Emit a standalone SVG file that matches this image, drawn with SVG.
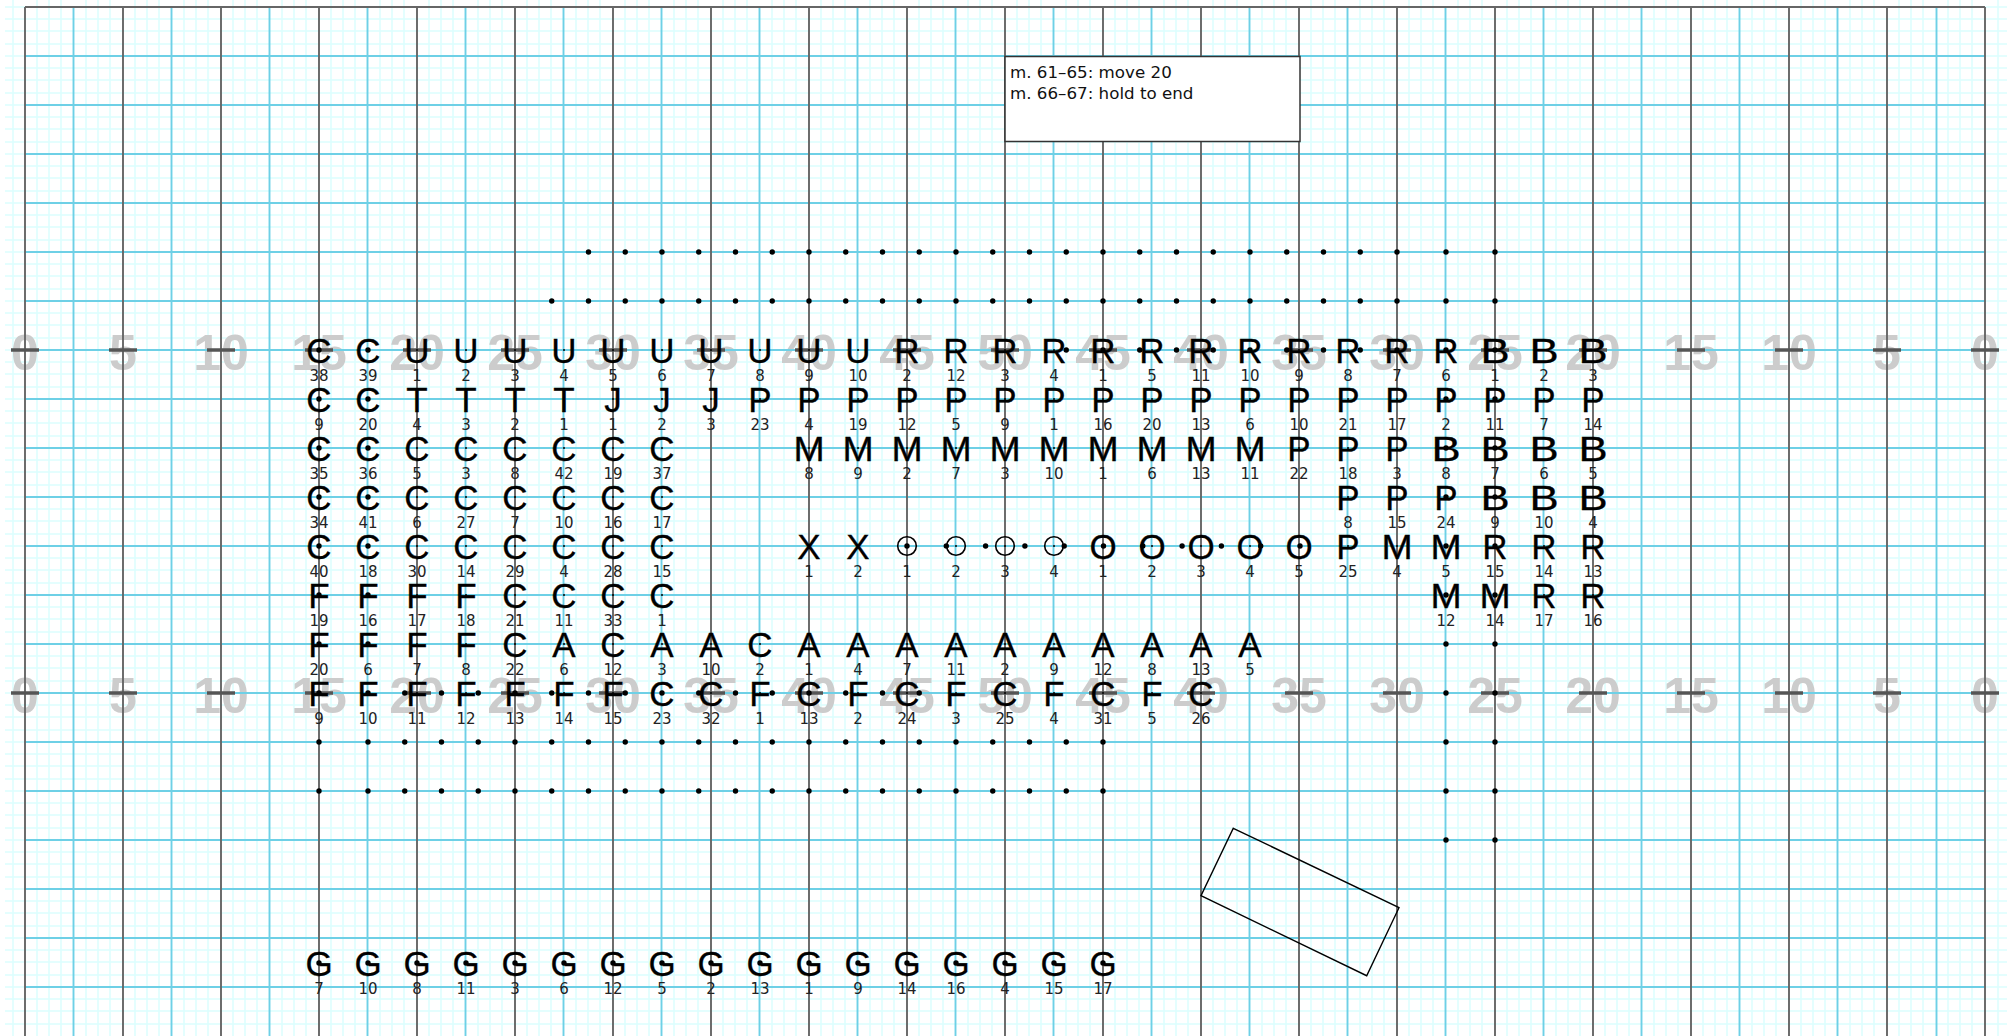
<svg xmlns="http://www.w3.org/2000/svg" width="2007" height="1036" viewBox="0 0 2007 1036">
<style>
text{text-anchor:middle}
.g{font:35px "Liberation Sans",Arial,sans-serif;fill:#000;stroke:#000;stroke-width:.3}
g[id^="B"] .g{transform:scaleX(1.25)}
g[id^="M"] .g{transform:scaleX(1.07)}
.n{font:15px "DejaVu Sans",sans-serif;fill:#222}
.t{font:bold 50px "Liberation Sans",Arial,sans-serif;fill:#ccc}
.d{fill:#000}
.ring{fill:none;stroke:#000;stroke-width:1.6}
.note{font:16.7px "DejaVu Sans",sans-serif;fill:#111;text-anchor:start}
.minor{fill:none;stroke:#dcfefe;stroke-width:1.5}
.blue{fill:none;stroke:#6ed0e6;stroke-width:1.9}
.gray{fill:none;stroke:#666;stroke-width:1.9}
.tick{fill:none;stroke:#555;stroke-width:3.5}
.bigdots{fill:none;stroke:#000;stroke-width:5.4;stroke-linecap:round}
</style>
<rect width="2007" height="1036" fill="#fff"/>
<g id="grid-minor">
<path class="minor" d="M13 0V1036M37 0V1036M49 0V1036M61 0V1036M86 0V1036M98 0V1036M110 0V1036M135 0V1036M147 0V1036M159 0V1036M184 0V1036M196 0V1036M208 0V1036M233 0V1036M245 0V1036M257 0V1036M282 0V1036M294 0V1036M306 0V1036M331 0V1036M343 0V1036M355 0V1036M380 0V1036M392 0V1036M404 0V1036M429 0V1036M441 0V1036M453 0V1036M478 0V1036M490 0V1036M502 0V1036M527 0V1036M539 0V1036M551 0V1036M576 0V1036M588 0V1036M600 0V1036M625 0V1036M637 0V1036M649 0V1036M674 0V1036M686 0V1036M698 0V1036M723 0V1036M735 0V1036M747 0V1036M772 0V1036M784 0V1036M796 0V1036M821 0V1036M833 0V1036M845 0V1036M870 0V1036M882 0V1036M894 0V1036M919 0V1036M931 0V1036M943 0V1036M968 0V1036M980 0V1036M992 0V1036M1017 0V1036M1029 0V1036M1041 0V1036M1066 0V1036M1078 0V1036M1090 0V1036M1115 0V1036M1127 0V1036M1139 0V1036M1164 0V1036M1176 0V1036M1188 0V1036M1213 0V1036M1225 0V1036M1237 0V1036M1262 0V1036M1274 0V1036M1286 0V1036M1311 0V1036M1323 0V1036M1335 0V1036M1360 0V1036M1372 0V1036M1384 0V1036M1409 0V1036M1421 0V1036M1433 0V1036M1458 0V1036M1470 0V1036M1482 0V1036M1507 0V1036M1519 0V1036M1531 0V1036M1556 0V1036M1568 0V1036M1580 0V1036M1605 0V1036M1617 0V1036M1629 0V1036M1654 0V1036M1666 0V1036M1678 0V1036M1703 0V1036M1715 0V1036M1727 0V1036M1752 0V1036M1764 0V1036M1776 0V1036M1801 0V1036M1813 0V1036M1825 0V1036M1850 0V1036M1862 0V1036M1874 0V1036M1899 0V1036M1911 0V1036M1923 0V1036M1948 0V1036M1960 0V1036M1972 0V1036M1998 0V1036"/>
<path class="minor" d="M5 7H2007M5 19H2007M5 31H2007M5 44H2007M5 56H2007M5 68H2007M5 80H2007M5 93H2007M5 105H2007M5 117H2007M5 129H2007M5 142H2007M5 154H2007M5 166H2007M5 178H2007M5 191H2007M5 203H2007M5 215H2007M5 227H2007M5 240H2007M5 252H2007M5 264H2007M5 276H2007M5 289H2007M5 301H2007M5 313H2007M5 325H2007M5 338H2007M5 350H2007M5 362H2007M5 374H2007M5 387H2007M5 399H2007M5 411H2007M5 423H2007M5 436H2007M5 448H2007M5 460H2007M5 472H2007M5 485H2007M5 497H2007M5 509H2007M5 521H2007M5 534H2007M5 546H2007M5 558H2007M5 570H2007M5 583H2007M5 595H2007M5 607H2007M5 619H2007M5 632H2007M5 644H2007M5 656H2007M5 668H2007M5 681H2007M5 693H2007M5 705H2007M5 717H2007M5 730H2007M5 742H2007M5 754H2007M5 766H2007M5 779H2007M5 791H2007M5 803H2007M5 815H2007M5 828H2007M5 840H2007M5 852H2007M5 864H2007M5 877H2007M5 889H2007M5 901H2007M5 913H2007M5 926H2007M5 938H2007M5 950H2007M5 962H2007M5 975H2007M5 987H2007M5 999H2007M5 1011H2007M5 1024H2007"/>
</g>
<g id="yard-labels">
<text class="t" x="25" y="370">0</text><text class="t" x="123" y="370">5</text><text class="t" x="221" y="370">10</text><text class="t" x="319" y="370">15</text><text class="t" x="417" y="370">20</text><text class="t" x="515" y="370">25</text><text class="t" x="613" y="370">30</text><text class="t" x="711" y="370">35</text><text class="t" x="809" y="370">40</text><text class="t" x="907" y="370">45</text><text class="t" x="1005" y="370">50</text><text class="t" x="1103" y="370">45</text><text class="t" x="1201" y="370">40</text><text class="t" x="1299" y="370">35</text><text class="t" x="1397" y="370">30</text><text class="t" x="1495" y="370">25</text><text class="t" x="1593" y="370">20</text><text class="t" x="1691" y="370">15</text><text class="t" x="1789" y="370">10</text><text class="t" x="1887" y="370">5</text><text class="t" x="1985" y="370">0</text>
<text class="t" x="25" y="713">0</text><text class="t" x="123" y="713">5</text><text class="t" x="221" y="713">10</text><text class="t" x="319" y="713">15</text><text class="t" x="417" y="713">20</text><text class="t" x="515" y="713">25</text><text class="t" x="613" y="713">30</text><text class="t" x="711" y="713">35</text><text class="t" x="809" y="713">40</text><text class="t" x="907" y="713">45</text><text class="t" x="1005" y="713">50</text><text class="t" x="1103" y="713">45</text><text class="t" x="1201" y="713">40</text><text class="t" x="1299" y="713">35</text><text class="t" x="1397" y="713">30</text><text class="t" x="1495" y="713">25</text><text class="t" x="1593" y="713">20</text><text class="t" x="1691" y="713">15</text><text class="t" x="1789" y="713">10</text><text class="t" x="1887" y="713">5</text><text class="t" x="1985" y="713">0</text>
</g>
<g id="grid-major">
<path class="blue" d="M73.5 7V1036M171.5 7V1036M269.5 7V1036M367.5 7V1036M465.5 7V1036M563.5 7V1036M661.5 7V1036M759.5 7V1036M857.5 7V1036M955.5 7V1036M1053.5 7V1036M1151.5 7V1036M1249.5 7V1036M1347.5 7V1036M1445.5 7V1036M1543.5 7V1036M1641.5 7V1036M1739.5 7V1036M1837.5 7V1036M1936.5 7V1036"/>
<path class="blue" d="M25 56H1985M25 105H1985M25 154H1985M25 203H1985M25 252H1985M25 301H1985M25 350H1985M25 399H1985M25 448H1985M25 497H1985M25 546H1985M25 595H1985M25 644H1985M25 693H1985M25 742H1985M25 791H1985M25 840H1985M25 889H1985M25 938H1985M25 987H1985"/>
<path class="gray" d="M25 7V1036M123 7V1036M221 7V1036M319 7V1036M417 7V1036M515 7V1036M613 7V1036M711 7V1036M809 7V1036M907 7V1036M1005 7V1036M1103 7V1036M1201 7V1036M1299 7V1036M1397 7V1036M1495 7V1036M1593 7V1036M1691 7V1036M1789 7V1036M1887 7V1036M1985 7V1036M25 7H1985"/>
<path class="tick" d="M11 350h28M109 350h28M207 350h28M305 350h28M403 350h28M501 350h28M599 350h28M697 350h28M795 350h28M893 350h28M991 350h28M1089 350h28M1187 350h28M1285 350h28M1383 350h28M1481 350h28M1579 350h28M1677 350h28M1775 350h28M1873 350h28M1971 350h28M11 693h28M109 693h28M207 693h28M305 693h28M403 693h28M501 693h28M599 693h28M697 693h28M795 693h28M893 693h28M991 693h28M1089 693h28M1187 693h28M1285 693h28M1383 693h28M1481 693h28M1579 693h28M1677 693h28M1775 693h28M1873 693h28M1971 693h28"/>
</g>
<g id="connectors">
<path class="bigdots" d="M588.5 252h0M625.25 252h0M662 252h0M698.75 252h0M735.5 252h0M772.25 252h0M809 252h0M845.75 252h0M882.5 252h0M919.25 252h0M956 252h0M992.75 252h0M1029.5 252h0M1066.25 252h0M1103 252h0M1139.75 252h0M1176.5 252h0M1213.25 252h0M1250 252h0M1286.75 252h0M1323.5 252h0M1360.25 252h0M1397 252h0
M551.75 301h0M588.5 301h0M625.25 301h0M662 301h0M698.75 301h0M735.5 301h0M772.25 301h0M809 301h0M845.75 301h0M882.5 301h0M919.25 301h0M956 301h0M992.75 301h0M1029.5 301h0M1066.25 301h0M1103 301h0M1139.75 301h0M1176.5 301h0M1213.25 301h0M1250 301h0M1286.75 301h0M1323.5 301h0M1360.25 301h0M1397 301h0
M1066.25 350h0M1103 350h0M1139.75 350h0M1176.5 350h0M1213.25 350h0M1250 350h0M1286.75 350h0M1323.5 350h0M1360.25 350h0M1397 350h0
M907 546h0M946.3 546h0M985.6 546h0M1024.9 546h0M1064.2 546h0M1103.5 546h0M1142.8 546h0M1182.1 546h0M1221.4 546h0M1260.7 546h0M1300 546h0
M319 350h0M368 350h0M319 399h0M368 399h0M319 448h0M368 448h0M319 497h0M368 497h0M319 546h0M368 546h0M319 595h0M368 595h0M319 644h0M368 644h0
M319 693h0M368 693h0M404.75 693h0M441.5 693h0M478.25 693h0M515 693h0M551.75 693h0M588.5 693h0M625.25 693h0M662 693h0M698.75 693h0M735.5 693h0M772.25 693h0M809 693h0M845.75 693h0M882.5 693h0M919.25 693h0
M319 742h0M368 742h0M404.75 742h0M441.5 742h0M478.25 742h0M515 742h0M551.75 742h0M588.5 742h0M625.25 742h0M662 742h0M698.75 742h0M735.5 742h0M772.25 742h0M809 742h0M845.75 742h0M882.5 742h0M919.25 742h0M956 742h0M992.75 742h0M1029.5 742h0M1066.25 742h0M1103 742h0
M319 791h0M368 791h0M404.75 791h0M441.5 791h0M478.25 791h0M515 791h0M551.75 791h0M588.5 791h0M625.25 791h0M662 791h0M698.75 791h0M735.5 791h0M772.25 791h0M809 791h0M845.75 791h0M882.5 791h0M919.25 791h0M956 791h0M992.75 791h0M1029.5 791h0M1066.25 791h0M1103 791h0
M1446 252h0M1446 301h0M1446 350h0M1446 399h0M1446 448h0M1446 497h0M1446 546h0M1446 595h0M1446 644h0M1446 693h0M1446 742h0M1446 791h0M1446 840h0
M1495 252h0M1495 301h0M1495 350h0M1495 399h0M1495 448h0M1495 497h0M1495 546h0M1495 595h0M1495 644h0M1495 693h0M1495 742h0M1495 791h0M1495 840h0
M319 963h0M368 963h0M417 963h0M466 963h0M515 963h0M564 963h0M613 963h0M662 963h0M711 963h0M760 963h0M809 963h0M858 963h0M907 963h0M956 963h0M1005 963h0M1054 963h0M1103 963h0"/>
</g>
<g id="marks">
<g id="C38" transform="translate(319 350)"><circle class="d" r="1"/><text class="g" y="12.8">C</text><text class="n" y="31">38</text></g>
<g id="C39" transform="translate(368 350)"><circle class="d" r="1"/><text class="g" y="12.8">C</text><text class="n" y="31">39</text></g>
<g id="U1" transform="translate(417 350)"><circle class="d" r="1"/><text class="g" y="12.8">U</text><text class="n" y="31">1</text></g>
<g id="U2" transform="translate(466 350)"><circle class="d" r="1"/><text class="g" y="12.8">U</text><text class="n" y="31">2</text></g>
<g id="U3" transform="translate(515 350)"><circle class="d" r="1"/><text class="g" y="12.8">U</text><text class="n" y="31">3</text></g>
<g id="U4" transform="translate(564 350)"><circle class="d" r="1"/><text class="g" y="12.8">U</text><text class="n" y="31">4</text></g>
<g id="U5" transform="translate(613 350)"><circle class="d" r="1"/><text class="g" y="12.8">U</text><text class="n" y="31">5</text></g>
<g id="U6" transform="translate(662 350)"><circle class="d" r="1"/><text class="g" y="12.8">U</text><text class="n" y="31">6</text></g>
<g id="U7" transform="translate(711 350)"><circle class="d" r="1"/><text class="g" y="12.8">U</text><text class="n" y="31">7</text></g>
<g id="U8" transform="translate(760 350)"><circle class="d" r="1"/><text class="g" y="12.8">U</text><text class="n" y="31">8</text></g>
<g id="U9" transform="translate(809 350)"><circle class="d" r="1"/><text class="g" y="12.8">U</text><text class="n" y="31">9</text></g>
<g id="U10" transform="translate(858 350)"><circle class="d" r="1"/><text class="g" y="12.8">U</text><text class="n" y="31">10</text></g>
<g id="R2" transform="translate(907 350)"><circle class="d" r="1"/><text class="g" y="12.8">R</text><text class="n" y="31">2</text></g>
<g id="R12" transform="translate(956 350)"><circle class="d" r="1"/><text class="g" y="12.8">R</text><text class="n" y="31">12</text></g>
<g id="R3" transform="translate(1005 350)"><circle class="d" r="1"/><text class="g" y="12.8">R</text><text class="n" y="31">3</text></g>
<g id="R4" transform="translate(1054 350)"><circle class="d" r="1"/><text class="g" y="12.8">R</text><text class="n" y="31">4</text></g>
<g id="R1" transform="translate(1103 350)"><circle class="d" r="1"/><text class="g" y="12.8">R</text><text class="n" y="31">1</text></g>
<g id="R5" transform="translate(1152 350)"><circle class="d" r="1"/><text class="g" y="12.8">R</text><text class="n" y="31">5</text></g>
<g id="R11" transform="translate(1201 350)"><circle class="d" r="1"/><text class="g" y="12.8">R</text><text class="n" y="31">11</text></g>
<g id="R10" transform="translate(1250 350)"><circle class="d" r="1"/><text class="g" y="12.8">R</text><text class="n" y="31">10</text></g>
<g id="R9" transform="translate(1299 350)"><circle class="d" r="1"/><text class="g" y="12.8">R</text><text class="n" y="31">9</text></g>
<g id="R8" transform="translate(1348 350)"><circle class="d" r="1"/><text class="g" y="12.8">R</text><text class="n" y="31">8</text></g>
<g id="R7" transform="translate(1397 350)"><circle class="d" r="1"/><text class="g" y="12.8">R</text><text class="n" y="31">7</text></g>
<g id="R6" transform="translate(1446 350)"><circle class="d" r="1"/><text class="g" y="12.8">R</text><text class="n" y="31">6</text></g>
<g id="B1" transform="translate(1495 350)"><circle class="d" r="1"/><text class="g" y="12.8">B</text><text class="n" y="31">1</text></g>
<g id="B2" transform="translate(1544 350)"><circle class="d" r="1"/><text class="g" y="12.8">B</text><text class="n" y="31">2</text></g>
<g id="B3" transform="translate(1593 350)"><circle class="d" r="1"/><text class="g" y="12.8">B</text><text class="n" y="31">3</text></g>
<g id="C9" transform="translate(319 399)"><circle class="d" r="1"/><text class="g" y="12.8">C</text><text class="n" y="31">9</text></g>
<g id="C20" transform="translate(368 399)"><circle class="d" r="1"/><text class="g" y="12.8">C</text><text class="n" y="31">20</text></g>
<g id="T4" transform="translate(417 399)"><circle class="d" r="1"/><text class="g" y="12.8">T</text><text class="n" y="31">4</text></g>
<g id="T3" transform="translate(466 399)"><circle class="d" r="1"/><text class="g" y="12.8">T</text><text class="n" y="31">3</text></g>
<g id="T2" transform="translate(515 399)"><circle class="d" r="1"/><text class="g" y="12.8">T</text><text class="n" y="31">2</text></g>
<g id="T1" transform="translate(564 399)"><circle class="d" r="1"/><text class="g" y="12.8">T</text><text class="n" y="31">1</text></g>
<g id="J1" transform="translate(613 399)"><circle class="d" r="1"/><text class="g" y="12.8">J</text><text class="n" y="31">1</text></g>
<g id="J2" transform="translate(662 399)"><circle class="d" r="1"/><text class="g" y="12.8">J</text><text class="n" y="31">2</text></g>
<g id="J3" transform="translate(711 399)"><circle class="d" r="1"/><text class="g" y="12.8">J</text><text class="n" y="31">3</text></g>
<g id="P23" transform="translate(760 399)"><circle class="d" r="1"/><text class="g" y="12.8">P</text><text class="n" y="31">23</text></g>
<g id="P4" transform="translate(809 399)"><circle class="d" r="1"/><text class="g" y="12.8">P</text><text class="n" y="31">4</text></g>
<g id="P19" transform="translate(858 399)"><circle class="d" r="1"/><text class="g" y="12.8">P</text><text class="n" y="31">19</text></g>
<g id="P12" transform="translate(907 399)"><circle class="d" r="1"/><text class="g" y="12.8">P</text><text class="n" y="31">12</text></g>
<g id="P5" transform="translate(956 399)"><circle class="d" r="1"/><text class="g" y="12.8">P</text><text class="n" y="31">5</text></g>
<g id="P9" transform="translate(1005 399)"><circle class="d" r="1"/><text class="g" y="12.8">P</text><text class="n" y="31">9</text></g>
<g id="P1" transform="translate(1054 399)"><circle class="d" r="1"/><text class="g" y="12.8">P</text><text class="n" y="31">1</text></g>
<g id="P16" transform="translate(1103 399)"><circle class="d" r="1"/><text class="g" y="12.8">P</text><text class="n" y="31">16</text></g>
<g id="P20" transform="translate(1152 399)"><circle class="d" r="1"/><text class="g" y="12.8">P</text><text class="n" y="31">20</text></g>
<g id="P13" transform="translate(1201 399)"><circle class="d" r="1"/><text class="g" y="12.8">P</text><text class="n" y="31">13</text></g>
<g id="P6" transform="translate(1250 399)"><circle class="d" r="1"/><text class="g" y="12.8">P</text><text class="n" y="31">6</text></g>
<g id="P10" transform="translate(1299 399)"><circle class="d" r="1"/><text class="g" y="12.8">P</text><text class="n" y="31">10</text></g>
<g id="P21" transform="translate(1348 399)"><circle class="d" r="1"/><text class="g" y="12.8">P</text><text class="n" y="31">21</text></g>
<g id="P17" transform="translate(1397 399)"><circle class="d" r="1"/><text class="g" y="12.8">P</text><text class="n" y="31">17</text></g>
<g id="P2" transform="translate(1446 399)"><circle class="d" r="1"/><text class="g" y="12.8">P</text><text class="n" y="31">2</text></g>
<g id="P11" transform="translate(1495 399)"><circle class="d" r="1"/><text class="g" y="12.8">P</text><text class="n" y="31">11</text></g>
<g id="P7" transform="translate(1544 399)"><circle class="d" r="1"/><text class="g" y="12.8">P</text><text class="n" y="31">7</text></g>
<g id="P14" transform="translate(1593 399)"><circle class="d" r="1"/><text class="g" y="12.8">P</text><text class="n" y="31">14</text></g>
<g id="C35" transform="translate(319 448)"><circle class="d" r="1"/><text class="g" y="12.8">C</text><text class="n" y="31">35</text></g>
<g id="C36" transform="translate(368 448)"><circle class="d" r="1"/><text class="g" y="12.8">C</text><text class="n" y="31">36</text></g>
<g id="C5" transform="translate(417 448)"><circle class="d" r="1"/><text class="g" y="12.8">C</text><text class="n" y="31">5</text></g>
<g id="C3" transform="translate(466 448)"><circle class="d" r="1"/><text class="g" y="12.8">C</text><text class="n" y="31">3</text></g>
<g id="C8" transform="translate(515 448)"><circle class="d" r="1"/><text class="g" y="12.8">C</text><text class="n" y="31">8</text></g>
<g id="C42" transform="translate(564 448)"><circle class="d" r="1"/><text class="g" y="12.8">C</text><text class="n" y="31">42</text></g>
<g id="C19" transform="translate(613 448)"><circle class="d" r="1"/><text class="g" y="12.8">C</text><text class="n" y="31">19</text></g>
<g id="C37" transform="translate(662 448)"><circle class="d" r="1"/><text class="g" y="12.8">C</text><text class="n" y="31">37</text></g>
<g id="M8" transform="translate(809 448)"><circle class="d" r="1"/><text class="g" y="12.8">M</text><text class="n" y="31">8</text></g>
<g id="M9" transform="translate(858 448)"><circle class="d" r="1"/><text class="g" y="12.8">M</text><text class="n" y="31">9</text></g>
<g id="M2" transform="translate(907 448)"><circle class="d" r="1"/><text class="g" y="12.8">M</text><text class="n" y="31">2</text></g>
<g id="M7" transform="translate(956 448)"><circle class="d" r="1"/><text class="g" y="12.8">M</text><text class="n" y="31">7</text></g>
<g id="M3" transform="translate(1005 448)"><circle class="d" r="1"/><text class="g" y="12.8">M</text><text class="n" y="31">3</text></g>
<g id="M10" transform="translate(1054 448)"><circle class="d" r="1"/><text class="g" y="12.8">M</text><text class="n" y="31">10</text></g>
<g id="M1" transform="translate(1103 448)"><circle class="d" r="1"/><text class="g" y="12.8">M</text><text class="n" y="31">1</text></g>
<g id="M6" transform="translate(1152 448)"><circle class="d" r="1"/><text class="g" y="12.8">M</text><text class="n" y="31">6</text></g>
<g id="M13" transform="translate(1201 448)"><circle class="d" r="1"/><text class="g" y="12.8">M</text><text class="n" y="31">13</text></g>
<g id="M11" transform="translate(1250 448)"><circle class="d" r="1"/><text class="g" y="12.8">M</text><text class="n" y="31">11</text></g>
<g id="P22" transform="translate(1299 448)"><circle class="d" r="1"/><text class="g" y="12.8">P</text><text class="n" y="31">22</text></g>
<g id="P18" transform="translate(1348 448)"><circle class="d" r="1"/><text class="g" y="12.8">P</text><text class="n" y="31">18</text></g>
<g id="P3" transform="translate(1397 448)"><circle class="d" r="1"/><text class="g" y="12.8">P</text><text class="n" y="31">3</text></g>
<g id="B8" transform="translate(1446 448)"><circle class="d" r="1"/><text class="g" y="12.8">B</text><text class="n" y="31">8</text></g>
<g id="B7" transform="translate(1495 448)"><circle class="d" r="1"/><text class="g" y="12.8">B</text><text class="n" y="31">7</text></g>
<g id="B6" transform="translate(1544 448)"><circle class="d" r="1"/><text class="g" y="12.8">B</text><text class="n" y="31">6</text></g>
<g id="B5" transform="translate(1593 448)"><circle class="d" r="1"/><text class="g" y="12.8">B</text><text class="n" y="31">5</text></g>
<g id="C34" transform="translate(319 497)"><circle class="d" r="1"/><text class="g" y="12.8">C</text><text class="n" y="31">34</text></g>
<g id="C41" transform="translate(368 497)"><circle class="d" r="1"/><text class="g" y="12.8">C</text><text class="n" y="31">41</text></g>
<g id="C6" transform="translate(417 497)"><circle class="d" r="1"/><text class="g" y="12.8">C</text><text class="n" y="31">6</text></g>
<g id="C27" transform="translate(466 497)"><circle class="d" r="1"/><text class="g" y="12.8">C</text><text class="n" y="31">27</text></g>
<g id="C7" transform="translate(515 497)"><circle class="d" r="1"/><text class="g" y="12.8">C</text><text class="n" y="31">7</text></g>
<g id="C10" transform="translate(564 497)"><circle class="d" r="1"/><text class="g" y="12.8">C</text><text class="n" y="31">10</text></g>
<g id="C16" transform="translate(613 497)"><circle class="d" r="1"/><text class="g" y="12.8">C</text><text class="n" y="31">16</text></g>
<g id="C17" transform="translate(662 497)"><circle class="d" r="1"/><text class="g" y="12.8">C</text><text class="n" y="31">17</text></g>
<g id="P8" transform="translate(1348 497)"><circle class="d" r="1"/><text class="g" y="12.8">P</text><text class="n" y="31">8</text></g>
<g id="P15" transform="translate(1397 497)"><circle class="d" r="1"/><text class="g" y="12.8">P</text><text class="n" y="31">15</text></g>
<g id="P24" transform="translate(1446 497)"><circle class="d" r="1"/><text class="g" y="12.8">P</text><text class="n" y="31">24</text></g>
<g id="B9" transform="translate(1495 497)"><circle class="d" r="1"/><text class="g" y="12.8">B</text><text class="n" y="31">9</text></g>
<g id="B10" transform="translate(1544 497)"><circle class="d" r="1"/><text class="g" y="12.8">B</text><text class="n" y="31">10</text></g>
<g id="B4" transform="translate(1593 497)"><circle class="d" r="1"/><text class="g" y="12.8">B</text><text class="n" y="31">4</text></g>
<g id="C40" transform="translate(319 546)"><circle class="d" r="1"/><text class="g" y="12.8">C</text><text class="n" y="31">40</text></g>
<g id="C18" transform="translate(368 546)"><circle class="d" r="1"/><text class="g" y="12.8">C</text><text class="n" y="31">18</text></g>
<g id="C30" transform="translate(417 546)"><circle class="d" r="1"/><text class="g" y="12.8">C</text><text class="n" y="31">30</text></g>
<g id="C14" transform="translate(466 546)"><circle class="d" r="1"/><text class="g" y="12.8">C</text><text class="n" y="31">14</text></g>
<g id="C29" transform="translate(515 546)"><circle class="d" r="1"/><text class="g" y="12.8">C</text><text class="n" y="31">29</text></g>
<g id="C4" transform="translate(564 546)"><circle class="d" r="1"/><text class="g" y="12.8">C</text><text class="n" y="31">4</text></g>
<g id="C28" transform="translate(613 546)"><circle class="d" r="1"/><text class="g" y="12.8">C</text><text class="n" y="31">28</text></g>
<g id="C15" transform="translate(662 546)"><circle class="d" r="1"/><text class="g" y="12.8">C</text><text class="n" y="31">15</text></g>
<g id="X1" transform="translate(809 546)"><circle class="d" r="1"/><text class="g" y="12.8">X</text><text class="n" y="31">1</text></g>
<g id="X2" transform="translate(858 546)"><circle class="d" r="1"/><text class="g" y="12.8">X</text><text class="n" y="31">2</text></g>
<g id="ring1" transform="translate(907 546)"><circle class="d" r="1"/><circle class="ring" r="9.3"/><text class="n" y="31">1</text></g>
<g id="ring2" transform="translate(956 546)"><circle class="d" r="1"/><circle class="ring" r="9.3"/><text class="n" y="31">2</text></g>
<g id="ring3" transform="translate(1005 546)"><circle class="d" r="1"/><circle class="ring" r="9.3"/><text class="n" y="31">3</text></g>
<g id="ring4" transform="translate(1054 546)"><circle class="d" r="1"/><circle class="ring" r="9.3"/><text class="n" y="31">4</text></g>
<g id="O1" transform="translate(1103 546)"><circle class="d" r="1"/><text class="g" y="12.8">O</text><text class="n" y="31">1</text></g>
<g id="O2" transform="translate(1152 546)"><circle class="d" r="1"/><text class="g" y="12.8">O</text><text class="n" y="31">2</text></g>
<g id="O3" transform="translate(1201 546)"><circle class="d" r="1"/><text class="g" y="12.8">O</text><text class="n" y="31">3</text></g>
<g id="O4" transform="translate(1250 546)"><circle class="d" r="1"/><text class="g" y="12.8">O</text><text class="n" y="31">4</text></g>
<g id="O5" transform="translate(1299 546)"><circle class="d" r="1"/><text class="g" y="12.8">O</text><text class="n" y="31">5</text></g>
<g id="P25" transform="translate(1348 546)"><circle class="d" r="1"/><text class="g" y="12.8">P</text><text class="n" y="31">25</text></g>
<g id="M4" transform="translate(1397 546)"><circle class="d" r="1"/><text class="g" y="12.8">M</text><text class="n" y="31">4</text></g>
<g id="M5" transform="translate(1446 546)"><circle class="d" r="1"/><text class="g" y="12.8">M</text><text class="n" y="31">5</text></g>
<g id="R15" transform="translate(1495 546)"><circle class="d" r="1"/><text class="g" y="12.8">R</text><text class="n" y="31">15</text></g>
<g id="R14" transform="translate(1544 546)"><circle class="d" r="1"/><text class="g" y="12.8">R</text><text class="n" y="31">14</text></g>
<g id="R13" transform="translate(1593 546)"><circle class="d" r="1"/><text class="g" y="12.8">R</text><text class="n" y="31">13</text></g>
<g id="F19" transform="translate(319 595)"><circle class="d" r="1"/><text class="g" y="12.8">F</text><text class="n" y="31">19</text></g>
<g id="F16" transform="translate(368 595)"><circle class="d" r="1"/><text class="g" y="12.8">F</text><text class="n" y="31">16</text></g>
<g id="F17" transform="translate(417 595)"><circle class="d" r="1"/><text class="g" y="12.8">F</text><text class="n" y="31">17</text></g>
<g id="F18" transform="translate(466 595)"><circle class="d" r="1"/><text class="g" y="12.8">F</text><text class="n" y="31">18</text></g>
<g id="C21" transform="translate(515 595)"><circle class="d" r="1"/><text class="g" y="12.8">C</text><text class="n" y="31">21</text></g>
<g id="C11" transform="translate(564 595)"><circle class="d" r="1"/><text class="g" y="12.8">C</text><text class="n" y="31">11</text></g>
<g id="C33" transform="translate(613 595)"><circle class="d" r="1"/><text class="g" y="12.8">C</text><text class="n" y="31">33</text></g>
<g id="C1" transform="translate(662 595)"><circle class="d" r="1"/><text class="g" y="12.8">C</text><text class="n" y="31">1</text></g>
<g id="M12" transform="translate(1446 595)"><circle class="d" r="1"/><text class="g" y="12.8">M</text><text class="n" y="31">12</text></g>
<g id="M14" transform="translate(1495 595)"><circle class="d" r="1"/><text class="g" y="12.8">M</text><text class="n" y="31">14</text></g>
<g id="R17" transform="translate(1544 595)"><circle class="d" r="1"/><text class="g" y="12.8">R</text><text class="n" y="31">17</text></g>
<g id="R16" transform="translate(1593 595)"><circle class="d" r="1"/><text class="g" y="12.8">R</text><text class="n" y="31">16</text></g>
<g id="F20" transform="translate(319 644)"><circle class="d" r="1"/><text class="g" y="12.8">F</text><text class="n" y="31">20</text></g>
<g id="F6" transform="translate(368 644)"><circle class="d" r="1"/><text class="g" y="12.8">F</text><text class="n" y="31">6</text></g>
<g id="F7" transform="translate(417 644)"><circle class="d" r="1"/><text class="g" y="12.8">F</text><text class="n" y="31">7</text></g>
<g id="F8" transform="translate(466 644)"><circle class="d" r="1"/><text class="g" y="12.8">F</text><text class="n" y="31">8</text></g>
<g id="C22" transform="translate(515 644)"><circle class="d" r="1"/><text class="g" y="12.8">C</text><text class="n" y="31">22</text></g>
<g id="A6" transform="translate(564 644)"><circle class="d" r="1"/><text class="g" y="12.8">A</text><text class="n" y="31">6</text></g>
<g id="C12" transform="translate(613 644)"><circle class="d" r="1"/><text class="g" y="12.8">C</text><text class="n" y="31">12</text></g>
<g id="A3" transform="translate(662 644)"><circle class="d" r="1"/><text class="g" y="12.8">A</text><text class="n" y="31">3</text></g>
<g id="A10" transform="translate(711 644)"><circle class="d" r="1"/><text class="g" y="12.8">A</text><text class="n" y="31">10</text></g>
<g id="C2" transform="translate(760 644)"><circle class="d" r="1"/><text class="g" y="12.8">C</text><text class="n" y="31">2</text></g>
<g id="A1" transform="translate(809 644)"><circle class="d" r="1"/><text class="g" y="12.8">A</text><text class="n" y="31">1</text></g>
<g id="A4" transform="translate(858 644)"><circle class="d" r="1"/><text class="g" y="12.8">A</text><text class="n" y="31">4</text></g>
<g id="A7" transform="translate(907 644)"><circle class="d" r="1"/><text class="g" y="12.8">A</text><text class="n" y="31">7</text></g>
<g id="A11" transform="translate(956 644)"><circle class="d" r="1"/><text class="g" y="12.8">A</text><text class="n" y="31">11</text></g>
<g id="A2" transform="translate(1005 644)"><circle class="d" r="1"/><text class="g" y="12.8">A</text><text class="n" y="31">2</text></g>
<g id="A9" transform="translate(1054 644)"><circle class="d" r="1"/><text class="g" y="12.8">A</text><text class="n" y="31">9</text></g>
<g id="A12" transform="translate(1103 644)"><circle class="d" r="1"/><text class="g" y="12.8">A</text><text class="n" y="31">12</text></g>
<g id="A8" transform="translate(1152 644)"><circle class="d" r="1"/><text class="g" y="12.8">A</text><text class="n" y="31">8</text></g>
<g id="A13" transform="translate(1201 644)"><circle class="d" r="1"/><text class="g" y="12.8">A</text><text class="n" y="31">13</text></g>
<g id="A5" transform="translate(1250 644)"><circle class="d" r="1"/><text class="g" y="12.8">A</text><text class="n" y="31">5</text></g>
<g id="F9" transform="translate(319 693)"><circle class="d" r="1"/><text class="g" y="12.8">F</text><text class="n" y="31">9</text></g>
<g id="F10" transform="translate(368 693)"><circle class="d" r="1"/><text class="g" y="12.8">F</text><text class="n" y="31">10</text></g>
<g id="F11" transform="translate(417 693)"><circle class="d" r="1"/><text class="g" y="12.8">F</text><text class="n" y="31">11</text></g>
<g id="F12" transform="translate(466 693)"><circle class="d" r="1"/><text class="g" y="12.8">F</text><text class="n" y="31">12</text></g>
<g id="F13" transform="translate(515 693)"><circle class="d" r="1"/><text class="g" y="12.8">F</text><text class="n" y="31">13</text></g>
<g id="F14" transform="translate(564 693)"><circle class="d" r="1"/><text class="g" y="12.8">F</text><text class="n" y="31">14</text></g>
<g id="F15" transform="translate(613 693)"><circle class="d" r="1"/><text class="g" y="12.8">F</text><text class="n" y="31">15</text></g>
<g id="C23" transform="translate(662 693)"><circle class="d" r="1"/><text class="g" y="12.8">C</text><text class="n" y="31">23</text></g>
<g id="C32" transform="translate(711 693)"><circle class="d" r="1"/><text class="g" y="12.8">C</text><text class="n" y="31">32</text></g>
<g id="F1" transform="translate(760 693)"><circle class="d" r="1"/><text class="g" y="12.8">F</text><text class="n" y="31">1</text></g>
<g id="C13" transform="translate(809 693)"><circle class="d" r="1"/><text class="g" y="12.8">C</text><text class="n" y="31">13</text></g>
<g id="F2" transform="translate(858 693)"><circle class="d" r="1"/><text class="g" y="12.8">F</text><text class="n" y="31">2</text></g>
<g id="C24" transform="translate(907 693)"><circle class="d" r="1"/><text class="g" y="12.8">C</text><text class="n" y="31">24</text></g>
<g id="F3" transform="translate(956 693)"><circle class="d" r="1"/><text class="g" y="12.8">F</text><text class="n" y="31">3</text></g>
<g id="C25" transform="translate(1005 693)"><circle class="d" r="1"/><text class="g" y="12.8">C</text><text class="n" y="31">25</text></g>
<g id="F4" transform="translate(1054 693)"><circle class="d" r="1"/><text class="g" y="12.8">F</text><text class="n" y="31">4</text></g>
<g id="C31" transform="translate(1103 693)"><circle class="d" r="1"/><text class="g" y="12.8">C</text><text class="n" y="31">31</text></g>
<g id="F5" transform="translate(1152 693)"><circle class="d" r="1"/><text class="g" y="12.8">F</text><text class="n" y="31">5</text></g>
<g id="C26" transform="translate(1201 693)"><circle class="d" r="1"/><text class="g" y="12.8">C</text><text class="n" y="31">26</text></g>
<g id="G7" transform="translate(319 963)"><text class="g" y="12.8">G</text><text class="n" y="31">7</text></g>
<g id="G10" transform="translate(368 963)"><text class="g" y="12.8">G</text><text class="n" y="31">10</text></g>
<g id="G8" transform="translate(417 963)"><text class="g" y="12.8">G</text><text class="n" y="31">8</text></g>
<g id="G11" transform="translate(466 963)"><text class="g" y="12.8">G</text><text class="n" y="31">11</text></g>
<g id="G3" transform="translate(515 963)"><text class="g" y="12.8">G</text><text class="n" y="31">3</text></g>
<g id="G6" transform="translate(564 963)"><text class="g" y="12.8">G</text><text class="n" y="31">6</text></g>
<g id="G12" transform="translate(613 963)"><text class="g" y="12.8">G</text><text class="n" y="31">12</text></g>
<g id="G5" transform="translate(662 963)"><text class="g" y="12.8">G</text><text class="n" y="31">5</text></g>
<g id="G2" transform="translate(711 963)"><text class="g" y="12.8">G</text><text class="n" y="31">2</text></g>
<g id="G13" transform="translate(760 963)"><text class="g" y="12.8">G</text><text class="n" y="31">13</text></g>
<g id="G1" transform="translate(809 963)"><text class="g" y="12.8">G</text><text class="n" y="31">1</text></g>
<g id="G9" transform="translate(858 963)"><text class="g" y="12.8">G</text><text class="n" y="31">9</text></g>
<g id="G14" transform="translate(907 963)"><text class="g" y="12.8">G</text><text class="n" y="31">14</text></g>
<g id="G16" transform="translate(956 963)"><text class="g" y="12.8">G</text><text class="n" y="31">16</text></g>
<g id="G4" transform="translate(1005 963)"><text class="g" y="12.8">G</text><text class="n" y="31">4</text></g>
<g id="G15" transform="translate(1054 963)"><text class="g" y="12.8">G</text><text class="n" y="31">15</text></g>
<g id="G17" transform="translate(1103 963)"><text class="g" y="12.8">G</text><text class="n" y="31">17</text></g>
</g>
<g id="note"><rect x="1005" y="56.5" width="295" height="85" fill="#fff" stroke="#333" stroke-width="1.5"/><text class="note" x="1010" y="78">m. 61–65: move 20</text><text class="note" x="1010" y="99">m. 66–67: hold to end</text></g>
<path id="tilted-box" d="M1233.3 828.3L1399 907.7L1366.7 975.7L1201 895.7Z" fill="none" stroke="#000" stroke-width="1.4"/>
</svg>
